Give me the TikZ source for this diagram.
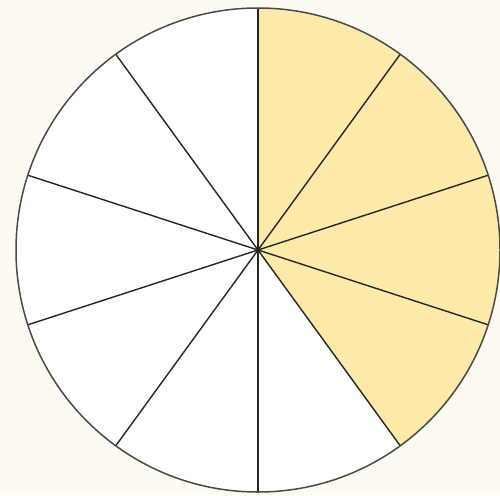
\documentclass[tikz,border=0pt]{standalone}
\definecolor{bgcream}{HTML}{FDFAF1}
\definecolor{sectoryellow}{HTML}{FDE9A8}
\definecolor{rimgray}{HTML}{4A4A4A}
\begin{document}
\begin{tikzpicture}[x=1pt,y=-1pt,
  divider/.style={draw=black!85, line width=1.4pt},
  rim/.style={draw=rimgray, line width=1.5pt}]
\fill[bgcream] (0,0) rectangle (500,495);
\useasboundingbox (0,0) rectangle (500,495);
\coordinate (c) at (258,250);
\fill[white] (c) circle[radius=242];
\fill[sectoryellow] (c) -- ++(0,-242) arc[start angle=-90, end angle=54, radius=242] -- cycle;
\foreach \a in {90,54,18,-18,-54,-90,-126,-162,162,126}{
  \draw[divider] (c) -- ++({242*cos(\a)},{-242*sin(\a)});
}
\draw[rim] (c) circle[radius=242];
\end{tikzpicture}
\end{document}
